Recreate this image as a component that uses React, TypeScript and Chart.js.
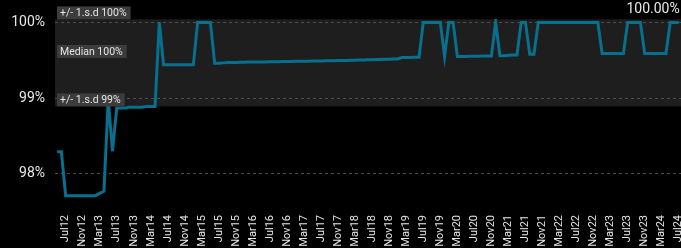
import React, { useEffect, useRef } from "react";
import { Chart, registerables } from "chart.js";

Chart.register(...registerables);

// Monthly series, first point = May12
const START_MONTH = "May12";
const VALUES: number[] = [
  98.29, 98.29, 97.71, 97.71, 97.71, 97.71, 97.71, 97.71, 97.71, 97.71,
  97.74, 97.77, 98.98, 98.30, 98.87, 98.87, 98.87, 98.88, 98.88, 98.88,
  98.88, 98.89, 98.89, 98.89, 100.0, 99.44, 99.44, 99.44, 99.44, 99.44,
  99.44, 99.44, 99.44, 100.0, 100.0, 100.0, 100.0, 99.46, 99.46, 99.465,
  99.47, 99.47, 99.47, 99.472, 99.474, 99.475, 99.476, 99.477, 99.478, 99.478,
  99.479, 99.48, 99.481, 99.482, 99.483, 99.484, 99.485, 99.486, 99.487, 99.488,
  99.489, 99.49, 99.491, 99.492, 99.493, 99.494, 99.495, 99.497, 99.498, 99.5,
  99.501, 99.503, 99.504, 99.506, 99.507, 99.509, 99.51, 99.512, 99.513, 99.515,
  99.516, 99.535, 99.536, 99.537, 99.538, 99.54, 100.0, 100.0, 100.0, 100.0,
  100.0, 99.55, 100.0, 100.0, 99.55, 99.55, 99.55, 99.552, 99.553, 99.554,
  99.555, 99.556, 99.557, 100.0, 99.56, 99.56, 99.565, 99.57, 99.57, 100.0,
  100.0, 99.58, 99.58, 100.0, 100.0, 100.0, 100.0, 100.0, 100.0, 100.0,
  100.0, 100.0, 100.0, 100.0, 100.0, 100.0, 100.0, 100.0, 99.59, 99.59,
  99.59, 99.59, 99.59, 99.59, 100.0, 100.0, 100.0, 100.0, 99.59, 99.59,
  99.59, 99.59, 99.59, 99.59, 100.0, 100.0, 100.0,
];

// x tick labels (every 4th month, first one is the 3rd month of the series)
const TICK_LABELS: string[] = [
  "Jul12", "Nov12", "Mar13", "Jul13", "Nov13", "Mar14", "Jul14", "Nov14",
  "Mar15", "Jul15", "Nov15", "Mar16", "Jul16", "Nov16", "Mar17", "Jul17",
  "Nov17", "Mar18", "Jul18", "Nov18", "Mar19", "Jul19", "Nov19", "Mar20",
  "Jul20", "Nov20", "Mar21", "Jul21", "Nov21", "Mar22", "Jul22", "Nov22",
  "Mar23", "Jul23", "Nov23", "Mar24", "Jul24",
];
const FIRST_TICK_INDEX = 2;
const TICK_STEP = 4;

const Y_TICKS: number[] = [98, 99, 100];

const UPPER_SD = 100.04;
const MEDIAN = 99.53;
const LOWER_SD = 98.89;

const FONT = "Roboto";

const bandPlugin = {
  id: "sdBand",
  beforeDraw(chart: any) {
    const { ctx, chartArea, scales } = chart;
    const yTop = scales.y.getPixelForValue(UPPER_SD);
    const yBot = scales.y.getPixelForValue(LOWER_SD);
    ctx.save();
    ctx.fillStyle = "#1e1e1e";
    ctx.fillRect(chartArea.left, yTop, chartArea.right - chartArea.left, yBot - yTop);
    ctx.restore();
  },
  afterDatasetsDraw(chart: any) {
    const { ctx, chartArea, scales } = chart;
    const items = [
      { v: UPPER_SD, t: `+/- 1.s.d ${Math.round(UPPER_SD)}%` },
      { v: MEDIAN, t: `Median ${Math.round(MEDIAN)}%` },
      { v: LOWER_SD, t: `+/- 1.s.d ${Math.round(LOWER_SD)}%` },
    ];
    ctx.save();
    ctx.font = `10.5px ${FONT}`;
    ctx.textBaseline = "middle";
    ctx.textAlign = "left";
    for (const it of items) {
      const y = scales.y.getPixelForValue(it.v);
      const w = ctx.measureText(it.t).width + 7;
      const h = 13;
      const x = chartArea.left + 2;
      ctx.fillStyle = "#3c3c3c";
      ctx.fillRect(x, y - h, w, h);
      ctx.fillStyle = "#e4e4e4";
      ctx.fillText(it.t, x + 3, y - h / 2 + 0.5);
    }
    ctx.restore();
  },
  afterDraw(chart: any) {
    const { ctx, scales } = chart;
    const last = VALUES.length - 1;
    const x = scales.x.getPixelForValue(last);
    ctx.save();
    ctx.font = `14px ${FONT}`;
    ctx.fillStyle = "#e8e8e8";
    ctx.textAlign = "right";
    ctx.textBaseline = "middle";
    ctx.fillText(`${VALUES[last].toFixed(2)}%`, x + 1, 9);
    ctx.restore();
  },
};

export default function App() {
  const ref = useRef<HTMLCanvasElement | null>(null);
  useEffect(() => {
    if (!ref.current) return;
    const chart = new Chart(ref.current, {
      type: "line",
      data: {
        datasets: [
          {
            label: START_MONTH,
            data: VALUES.map((v, i) => ({ x: i, y: v })),
            borderColor: "#07708f",
            borderWidth: 3,
            pointRadius: 0,
            tension: 0,
            fill: false,
          },
        ],
      },
      options: {
        responsive: false,
        animation: false,
        layout: { padding: { top: 19, right: 8, left: 0, bottom: 0 } },
        plugins: { legend: { display: false }, tooltip: { enabled: false } },
        scales: {
          x: {
            type: "linear",
            min: -0.5,
            max: 147.1,
            grid: { display: false, drawTicks: false },
            border: { display: false },
            afterBuildTicks: (scale: any) => {
              scale.ticks = TICK_LABELS.map((_, k) => ({ value: FIRST_TICK_INDEX + TICK_STEP * k }));
            },
            afterFit: (scale: any) => {
              scale.height = 41;
            },
            ticks: {
              autoSkip: false,
              minRotation: 90,
              maxRotation: 90,
              padding: 8,
              color: "#e6e6e6",
              font: { family: FONT, size: 11 },
              callback: (_v: any, idx: number) => TICK_LABELS[idx],
            },
          },
          y: {
            type: "linear",
            min: 97.56,
            max: 100.045,
            grid: { color: "#4d4d4d", lineWidth: 1, drawTicks: false },
            border: { display: false, dash: [3, 3] },
            afterBuildTicks: (scale: any) => {
              scale.ticks = Y_TICKS.map((v) => ({ value: v }));
            },
            afterFit: (scale: any) => {
              scale.width = 55;
            },
            ticks: {
              padding: 10,
              color: "#e8e8e8",
              font: { family: FONT, size: 14 },
              callback: (v: any) => `${v}%`,
            },
          },
        },
      },
      plugins: [bandPlugin],
    });
    return () => chart.destroy();
  }, []);
  return (
    <div
      style={{
        position: "fixed",
        left: 0,
        top: 0,
        width: 681,
        height: 248,
        overflow: "hidden",
        background: "#000",
      }}
    >
      <canvas ref={ref} width={700} height={248} style={{ display: "block" }} />
    </div>
  );
}
